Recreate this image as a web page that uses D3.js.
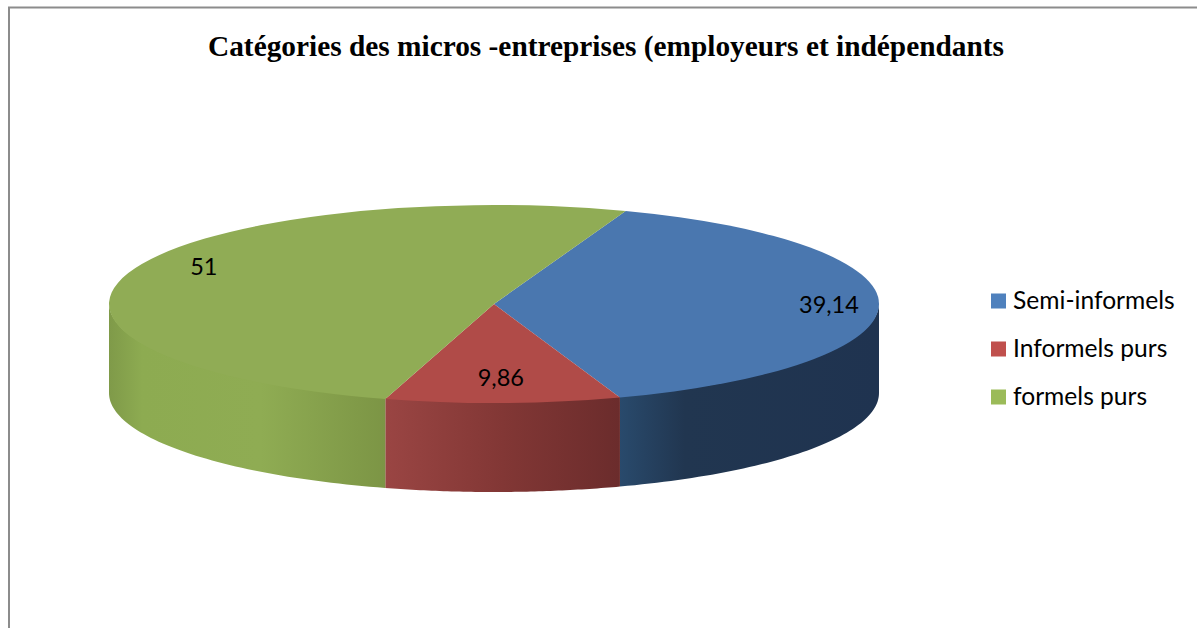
<!DOCTYPE html>
<html><head><meta charset="utf-8">
<script src="https://cdn.jsdelivr.net/npm/d3@7/dist/d3.min.js"></script>
<style>html,body{margin:0;padding:0;background:#fff;overflow:hidden}svg{display:block}</style>
</head><body><svg id="c" width="1197" height="628"></svg>
<script>
const titleText = "Catégories des micros -entreprises (employeurs et indépendants";
const categories = ["Semi-informels", "Informels purs", "formels purs"];
const values = [39.14, 9.86, 51];
const valueLabels = ["39,14", "9,86", "51"];
const topColors = ["#4a77af", "#b04b48", "#90ac55"];
const legendColors = ["#4f81bd", "#c0504d", "#9bbb59"];
const wallStops = [
  [[0, "#294a6c"], [0.25, "#213650"], [1, "#1f3350"]],
  [[0, "#9a4543"], [0.5, "#823735"], [1, "#6b2c2c"]],
  [[0, "#7f9a49"], [0.12, "#8dab51"], [0.55, "#8fac53"], [1, "#7c9545"]]
];

const cx = 494, cy = 304, rx = 385, ry = 99, depth = 89;
const deg = Math.PI / 180;
const svg = d3.select("#c");

svg.append("path").attr("d", "M9,628V7.5H1197").attr("fill", "none").attr("stroke", "#8c8c8c").attr("stroke-width", 2);

svg.append("text").attr("x", 606).attr("y", 55.5).attr("text-anchor", "middle")
  .attr("font-family", "Liberation Serif").attr("font-weight", "bold").attr("font-size", 29.35)
  .attr("fill", "#000").text(titleText);

const pie = d3.pie().sort(null).startAngle(20 * deg).endAngle(380 * deg);
const arcs = pie(values);
const arcGen = d3.arc().innerRadius(0).outerRadius(rx);
const defs = svg.append("defs");
const project = (a, dy) => [cx + rx * Math.sin(a), cy - ry * Math.cos(a) + dy];

// Side walls: only the front half (90deg to 270deg) is visible
const line = d3.line();
arcs.forEach((d, i) => {
  const a0 = Math.max(d.startAngle, 90 * deg), a1 = Math.min(d.endAngle, 270 * deg);
  if (a1 <= a0) return;
  const angles = d3.range(0, 61).map(k => a0 + (a1 - a0) * k / 60);
  const pts = angles.map(a => project(a, -1)).concat(angles.slice().reverse().map(a => project(a, depth)));
  const xs = pts.map(p => p[0]);
  const g = defs.append("linearGradient").attr("id", "w" + i).attr("gradientUnits", "userSpaceOnUse")
    .attr("x1", d3.min(xs)).attr("x2", d3.max(xs)).attr("y1", 0).attr("y2", 0);
  wallStops[i].forEach(s => g.append("stop").attr("offset", s[0]).attr("stop-color", s[1]));
  svg.append("path").attr("d", line(pts) + "Z").attr("fill", `url(#w${i})`);
});

// Top face
const topFace = svg.append("g").attr("transform", `translate(${cx},${cy}) scale(1,${ry / rx})`);
topFace.selectAll("path").data(arcs).join("path")
  .attr("d", arcGen).attr("fill", (d, i) => topColors[i]);

// Data labels: placed from each slice's mid-angle
const labelRadius = [0.87, 0.75, 0.84];
const labelAngleShift = [0, 0, 8 * deg];
arcs.forEach((d, i) => {
  const a = (d.startAngle + d.endAngle) / 2 + labelAngleShift[i];
  const x = cx + rx * labelRadius[i] * Math.sin(a);
  const y = cy - ry * labelRadius[i] * Math.cos(a);
  svg.append("text").attr("x", x).attr("y", y + 8).attr("text-anchor", "middle")
    .attr("font-family", "Lato").attr("font-size", 23.5).attr("fill", "#000").text(valueLabels[i]);
});

// Legend
const ly = d3.scalePoint().domain(categories).range([301, 397]);
categories.forEach((c, i) => {
  svg.append("rect").attr("x", 991).attr("y", ly(c) - 7.5).attr("width", 15).attr("height", 15).attr("fill", legendColors[i]);
  svg.append("text").attr("x", 1013).attr("y", ly(c) + 8).attr("font-family", "Lato").attr("font-size", 24.6).attr("fill", "#000").text(c);
});
</script></body></html>
